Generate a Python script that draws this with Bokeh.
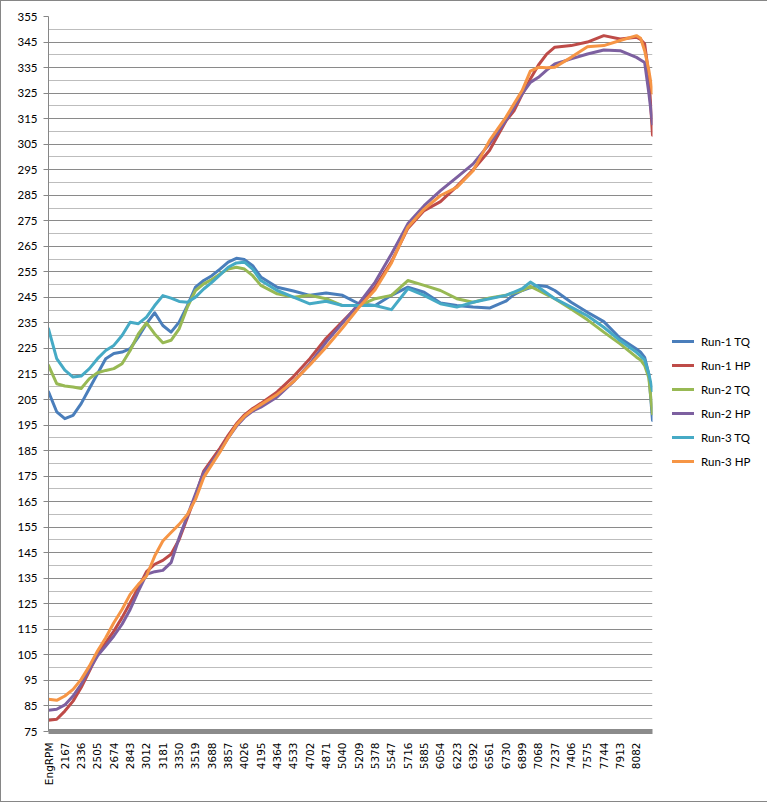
import math
from bokeh.plotting import figure
from bokeh.models import Range1d, FixedTicker, Legend, LegendItem
from bokeh.embed import file_html
from bokeh.resources import INLINE

# ---- data ----
rpm = [1998, 2083, 2167, 2252, 2336, 2421, 2505, 2590, 2674, 2759, 2843, 2928, 3012,
       3097, 3181, 3266, 3350, 3435, 3519, 3604, 3688, 3773, 3857, 3942, 4026, 4111, 4195,
       4364, 4533, 4702, 4871, 5040, 5209, 5378, 5547, 5716, 5885, 6054, 6223, 6392, 6561, 6730,
       6815, 6899, 6984, 7068, 7153, 7237,
       7406, 7575, 7744, 7913, 8082,
       8125, 8167, 8210, 8248]

run1_tq = [208, 200.2, 197.5, 198.8, 203.4, 209.3, 215.1, 221, 223, 223.6, 224.9, 229.5, 234.7,
           239, 234, 231.4, 235.3, 241.8, 249, 251.6, 253.5, 256.1, 258.8, 260.3, 259.8, 257.4, 253,
           249, 247.5, 245.8, 246.7, 245.8, 242.5, 241.8, 245.8, 249, 247, 242.8, 241.8, 241.2, 240.8, 243.5,
           246.1, 247.7, 248.8, 249.7, 249.3, 247.7,
           243.1, 239.2, 235.5, 229, 224.8,
           223.5, 221.5, 215, 196.8]

run1_hp = [79.4, 79.8, 83, 86.9, 92.2, 98.7, 105.2, 109.8, 114.3, 119.6, 125.4, 131.3, 137.6,
           140.5, 142, 144.4, 150.2, 158.7, 167.2, 177, 181.5, 186, 191, 195.5, 199, 201.5, 203.5,
           208, 214, 221, 229, 235.5, 242, 249, 259, 272, 279, 282.5, 288.5, 295, 302.5, 314,
           318.1, 324.5, 330.5, 336, 340.3, 343,
           343.6, 345, 347.5, 346.2, 346.9,
           346, 344.3, 332, 308.5]

run2_tq = [218.4, 211.2, 210.3, 209.9, 209.3, 213.2, 215.5, 216.4, 217.1, 219, 224.2, 230.7, 235,
           230.7, 227.2, 228.2, 232.7, 241.2, 247.7, 250.3, 252, 254.2, 256.1, 256.8, 256.1, 253.5, 249.7,
           246.4, 245.1, 245.8, 244.5, 241.8, 241.8, 244.5, 245.8, 251.6, 249.7, 247.7, 244.5, 243.1, 244.8, 245.8,
           246.8, 247.7, 249.3, 247.7, 246.1, 244.5,
           240.5, 236.2, 231.4, 226.8, 221.6,
           220.5, 218.3, 213.5, 199.4]

run2_hp = [83.3, 83.7, 85.4, 88.9, 93.5, 99.3, 104.6, 108.5, 112.4, 117, 122.8, 130, 136.5,
           137.6, 138.1, 141.1, 150.9, 159.5, 168, 176.5, 180.5, 185, 190, 194.5, 198, 200.5, 202,
           206, 212, 219, 227.5, 235, 242.5, 251, 262, 273.8, 280.9, 286.8, 292, 297.3, 305.1, 314.2,
           319.5, 324.7, 329.2, 331.2, 334, 336.4,
           338.4, 340.3, 341.9, 341.6, 339,
           338, 337, 325, 313]

run3_tq = [232.7, 221, 216.5, 213.8, 214.2, 217.1, 221, 224.2, 226.2, 230.1, 235.3, 234.7, 237.3,
           241.8, 245.7, 244.7, 243.4, 243.1, 245.1, 248.3, 250.9, 253.8, 256.8, 258.5, 258.8, 256.1, 251.6,
           247.7, 245.1, 242.5, 243.5, 241.8, 241.8, 241.8, 240.2, 248.4, 245.8, 242.5, 241.2, 243.1, 244.5, 245.8,
           247.1, 248.4, 251, 249, 246.7, 244.5,
           241.2, 237.8, 233.3, 228.1, 223.5,
           222, 220.5, 215, 208.5]

run3_hp = [87.6, 87.2, 88.9, 91.5, 95.4, 100.6, 106.5, 111.7, 117.6, 122.8, 128.7, 132.6, 135.9,
           143.7, 149.6, 152.9, 156.1, 160, 165.9, 174.5, 179.5, 184.5, 190, 195, 198.5, 201, 203,
           207, 212, 218.5, 225.5, 233, 241, 248, 258.5, 272.5, 279.6, 284.9, 288.1, 294.6, 306.4, 315.5,
           320.8, 326, 333.6, 335.1, 334.9, 335.1,
           339, 343.2, 343.6, 345.6, 347.5,
           346.5, 341.6, 334, 325]

series_names = ["Run-1 TQ", "Run-1 HP", "Run-2 TQ", "Run-2 HP", "Run-3 TQ", "Run-3 HP"]
series_values = [run1_tq, run1_hp, run2_tq, run2_hp, run3_tq, run3_hp]
series_colors = ["#4A7EBB", "#BE4B48", "#98B954", "#7D60A0", "#46AAC5", "#F69545"]

x_tick_labels = ["EngRPM", "2167", "2336", "2505", "2674", "2843", "3012", "3181", "3350",
                 "3519", "3688", "3857", "4026", "4195", "4364", "4533", "4702", "4871",
                 "5040", "5209", "5378", "5547", "5716", "5885", "6054", "6223", "6392",
                 "6561", "6730", "6899", "7068", "7237", "7406", "7575", "7744", "7913", "8082"]
x_tick_pos = [1998] + [int(s) for s in x_tick_labels[1:]]
y_ticks = list(range(75, 356, 10))
y_minor = list(range(80, 351, 10))

# ---- figure ----
p = figure(frame_width=604, frame_height=715, output_backend="svg", toolbar_location=None,
           x_range=Range1d(1998, 8248), y_range=Range1d(75, 355),
           min_border_left=47, min_border_top=15, min_border_bottom=70, min_border_right=112)
p.styles = {"border": "1px solid #868686"}
p.outline_line_color = None
p.background_fill_color = "white"
p.border_fill_color = "white"

p.xgrid.grid_line_color = None
p.ygrid.ticker = FixedTicker(ticks=y_ticks, minor_ticks=y_minor)
p.ygrid.grid_line_color = "#8a8a8a"
p.ygrid.grid_line_width = 1
p.ygrid.minor_grid_line_color = "#bdbdbd"
p.ygrid.minor_grid_line_width = 1

p.yaxis.ticker = FixedTicker(ticks=y_ticks, minor_ticks=[])
p.yaxis.axis_line_color = "#868686"
p.yaxis.major_tick_line_color = "#868686"
p.yaxis.major_tick_out = 5
p.yaxis.major_tick_in = 0
p.yaxis.minor_tick_line_color = None
p.yaxis.major_label_standoff = 6
p.yaxis.major_label_text_font = "Lato"
p.yaxis.major_label_text_font_size = "11.5px"
p.yaxis.major_label_text_color = "#000000"

p.xaxis.ticker = FixedTicker(ticks=x_tick_pos, minor_ticks=[])
p.xaxis.major_label_overrides = {pos: lab for pos, lab in zip(x_tick_pos, x_tick_labels)}
p.xaxis.major_label_orientation = math.pi / 2
p.xaxis.axis_line_color = "#8b8b8b"
p.xaxis.axis_line_width = 5
p.xaxis.major_tick_line_color = None
p.xaxis.minor_tick_line_color = None
p.xaxis.major_label_standoff = 5
p.xaxis.major_label_text_font = "DejaVu Sans"
p.xaxis.major_label_text_font_size = "10.5px"
p.xaxis.major_label_text_color = "#000000"

items = []
for name, vals, col in zip(series_names, series_values, series_colors):
    r = p.line(rpm, vals, line_color=col, line_width=3, line_join="round", line_cap="round")
    items.append(LegendItem(label=name, renderers=[r]))

legend = Legend(items=items, location=(20, 260))
legend.padding = 0
legend.margin = 0
legend.spacing = 4
legend.glyph_width = 22
legend.glyph_height = 20
legend.label_height = 20
legend.label_standoff = 7
legend.label_text_font = "Lato"
legend.label_text_font_size = "11.5px"
legend.label_text_color = "#000000"
legend.border_line_color = None
legend.background_fill_alpha = 0
p.add_layout(legend, "right")

open("out.html", "w").write(file_html(p, INLINE))
